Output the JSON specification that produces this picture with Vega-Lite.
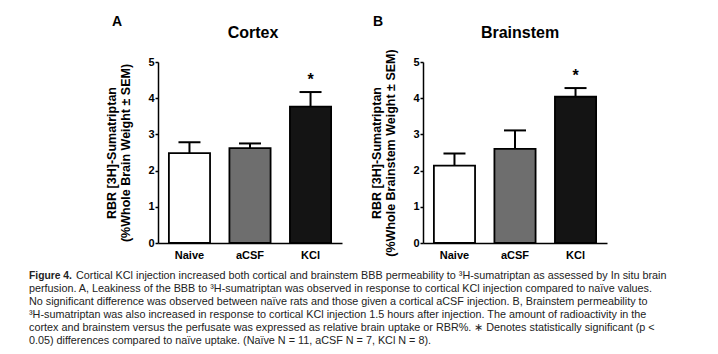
{
  "$schema": "https://vega.github.io/schema/vega-lite/v6.json",
  "bounds": "flush",
  "padding": {"left": 29, "top": 15, "right": 0, "bottom": 0},
  "background": "white",
  "config": {
    "view": {"stroke": null},
    "font": "Liberation Sans",
    "axis": {
      "domainColor": "black", "domainWidth": 1.5, "tickColor": "black", "tickWidth": 1.5,
      "labelColor": "black", "labelFontWeight": "bold", "labelFontSize": 11, "grid": false,
      "titleColor": "black", "titleFontWeight": "bold", "titleFontSize": 12.5
    },
    "axisY": {"tickCount": 10, "format": "d", "labelOverlap": false, "values": [0, 1, 2, 3, 4, 5], "tickSize": 3, "labelPadding": 1, "titlePadding": 15, "titleLineHeight": 14}
  },
  "columns": 2,
  "spacing": {"row": 26, "column": 81},
  "concat": [
    {
      "width": 184, "height": 181,
      "data": {"values": [
        {"group": "Naive", "mean": 2.48, "hi": 2.78, "sig": ""},
        {"group": "aCSF", "mean": 2.62, "hi": 2.75, "sig": ""},
        {"group": "KCl", "mean": 3.77, "hi": 4.17, "sig": "*"}
      ]},
      "layer": [
        {
          "mark": {"type": "bar", "stroke": "black", "strokeWidth": 1.8, "opacity": 1},
          "encoding": {
            "x": {"field": "group", "type": "nominal", "sort": null, "title": null,
              "scale": {"paddingInner": 0.32, "paddingOuter": 0.18},
              "axis": {"ticks": false, "labelPadding": 6, "labelAngle": 0, "bandPosition": 0.5, "labelAlign": "center"}},
            "y": {"field": "mean", "type": "quantitative",
              "scale": {"domain": [0, 5], "nice": false},
              "axis": {"values": [0, 1, 2, 3, 4, 5], "tickCount": 10, "format": "d", "labelOverlap": false, "title": ["RBR [3H]-Sumatriptan", "(%Whole Brain Weight ± SEM)"]}},
            "fill": {"field": "group", "type": "nominal", "legend": null,
              "scale": {"domain": ["Naive", "aCSF", "KCl"], "range": ["#ffffff", "#6e6e6e", "#141414"]}}
          }
        },
        {
          "mark": {"type": "rule", "color": "black", "strokeWidth": 2},
          "encoding": {
            "x": {"field": "group", "type": "nominal", "sort": null},
            "y": {"field": "mean", "type": "quantitative",
              "axis": {"values": [0, 1, 2, 3, 4, 5], "tickCount": 10, "format": "d", "labelOverlap": false, "title": ["RBR [3H]-Sumatriptan", "(%Whole Brain Weight ± SEM)"]}},
            "y2": {"field": "hi"}
          }
        },
        {
          "mark": {"type": "tick", "orient": "horizontal", "size": 22, "thickness": 2, "color": "black", "opacity": 1},
          "encoding": {
            "x": {"field": "group", "type": "nominal", "sort": null},
            "y": {"field": "hi", "type": "quantitative",
              "axis": {"values": [0, 1, 2, 3, 4, 5], "tickCount": 10, "format": "d", "labelOverlap": false, "title": ["RBR [3H]-Sumatriptan", "(%Whole Brain Weight ± SEM)"]}}
          }
        },
        {
          "mark": {"type": "text", "fontSize": 16, "fontWeight": "bold", "baseline": "middle", "dy": -12, "color": "black"},
          "encoding": {
            "x": {"field": "group", "type": "nominal", "sort": null},
            "y": {"field": "hi", "type": "quantitative",
              "axis": {"values": [0, 1, 2, 3, 4, 5], "tickCount": 10, "format": "d", "labelOverlap": false, "title": ["RBR [3H]-Sumatriptan", "(%Whole Brain Weight ± SEM)"]}},
            "text": {"field": "sig"}
          }
        },
        {
          "data": {"values": [{"label": "A"}]},
          "mark": {"type": "text", "x": -41, "y": -40, "fontSize": 14, "fontWeight": "bold", "baseline": "middle", "align": "center", "color": "black"},
          "encoding": {"text": {"field": "label"}}
        },
        {
          "data": {"values": [{"label": "Cortex"}]},
          "mark": {"type": "text", "x": 95, "y": -29, "fontSize": 16, "fontWeight": "bold", "baseline": "middle", "align": "center", "color": "black"},
          "encoding": {"text": {"field": "label"}}
        }
      ]
    },
    {
      "width": 184, "height": 181,
      "data": {"values": [
        {"group": "Naive", "mean": 2.14, "hi": 2.47, "sig": ""},
        {"group": "aCSF", "mean": 2.6, "hi": 3.11, "sig": ""},
        {"group": "KCl", "mean": 4.04, "hi": 4.28, "sig": "*"}
      ]},
      "layer": [
        {
          "mark": {"type": "bar", "stroke": "black", "strokeWidth": 1.8, "opacity": 1},
          "encoding": {
            "x": {"field": "group", "type": "nominal", "sort": null, "title": null,
              "scale": {"paddingInner": 0.32, "paddingOuter": 0.18},
              "axis": {"ticks": false, "labelPadding": 6, "labelAngle": 0, "bandPosition": 0.5, "labelAlign": "center"}},
            "y": {"field": "mean", "type": "quantitative",
              "scale": {"domain": [0, 5], "nice": false},
              "axis": {"values": [0, 1, 2, 3, 4, 5], "tickCount": 10, "format": "d", "labelOverlap": false, "title": ["RBR [3H]-Sumatriptan", "(%Whole Brainstem Weight ± SEM)"]}},
            "fill": {"field": "group", "type": "nominal", "legend": null,
              "scale": {"domain": ["Naive", "aCSF", "KCl"], "range": ["#ffffff", "#6e6e6e", "#141414"]}}
          }
        },
        {
          "mark": {"type": "rule", "color": "black", "strokeWidth": 2},
          "encoding": {
            "x": {"field": "group", "type": "nominal", "sort": null},
            "y": {"field": "mean", "type": "quantitative",
              "axis": {"values": [0, 1, 2, 3, 4, 5], "tickCount": 10, "format": "d", "labelOverlap": false, "title": ["RBR [3H]-Sumatriptan", "(%Whole Brainstem Weight ± SEM)"]}},
            "y2": {"field": "hi"}
          }
        },
        {
          "mark": {"type": "tick", "orient": "horizontal", "size": 22, "thickness": 2, "color": "black", "opacity": 1},
          "encoding": {
            "x": {"field": "group", "type": "nominal", "sort": null},
            "y": {"field": "hi", "type": "quantitative",
              "axis": {"values": [0, 1, 2, 3, 4, 5], "tickCount": 10, "format": "d", "labelOverlap": false, "title": ["RBR [3H]-Sumatriptan", "(%Whole Brainstem Weight ± SEM)"]}}
          }
        },
        {
          "mark": {"type": "text", "fontSize": 16, "fontWeight": "bold", "baseline": "middle", "dy": -12, "color": "black"},
          "encoding": {
            "x": {"field": "group", "type": "nominal", "sort": null},
            "y": {"field": "hi", "type": "quantitative",
              "axis": {"values": [0, 1, 2, 3, 4, 5], "tickCount": 10, "format": "d", "labelOverlap": false, "title": ["RBR [3H]-Sumatriptan", "(%Whole Brainstem Weight ± SEM)"]}},
            "text": {"field": "sig"}
          }
        },
        {
          "data": {"values": [{"label": "B"}]},
          "mark": {"type": "text", "x": -45, "y": -40, "fontSize": 14, "fontWeight": "bold", "baseline": "middle", "align": "center", "color": "black"},
          "encoding": {"text": {"field": "label"}}
        },
        {
          "data": {"values": [{"label": "Brainstem"}]},
          "mark": {"type": "text", "x": 97, "y": -29, "fontSize": 16, "fontWeight": "bold", "baseline": "middle", "align": "center", "color": "black"},
          "encoding": {"text": {"field": "label"}}
        }
      ]
    },
    {
      "width": 184, "height": 79,
      "data": {"values": [
        {"line": 1, "text": "Cortical KCl injection increased both cortical and brainstem BBB permeability to ³H-sumatriptan as assessed by In situ brain"},
        {"line": 2, "text": "perfusion. A, Leakiness of the BBB to ³H-sumatriptan was observed in response to cortical KCl injection compared to naïve values."},
        {"line": 3, "text": "No significant difference was observed between naïve rats and those given a cortical aCSF injection. B, Brainstem permeability to"},
        {"line": 4, "text": "³H-sumatriptan was also increased in response to cortical KCl injection 1.5 hours after injection. The amount of radioactivity in the"},
        {"line": 5, "text": "cortex and brainstem versus the perfusate was expressed as relative brain uptake or RBR%. ∗ Denotes statistically significant (p <"},
        {"line": 6, "text": "0.05) differences compared to naïve uptake. (Naïve N = 11, aCSF N = 7, KCl N = 8)."}
      ]},
      "layer": [
        {
          "mark": {"type": "text", "x": -129, "dx": 47, "align": "left", "baseline": "middle", "fontSize": 10.8, "color": "#222222"},
          "transform": [{"filter": "datum.line == 1"}],
          "encoding": {
            "y": {"field": "line", "type": "ordinal", "axis": null, "scale": {"domain": [1, 2, 3, 4, 5, 6]}},
            "text": {"field": "text"}
          }
        },
        {
          "mark": {"type": "text", "x": -129, "align": "left", "baseline": "middle", "fontSize": 10.8, "color": "#222222"},
          "transform": [{"filter": "datum.line > 1"}],
          "encoding": {
            "y": {"field": "line", "type": "ordinal", "axis": null},
            "text": {"field": "text"}
          }
        },
        {
          "data": {"values": [{"line": 1, "label": "Figure 4."}]},
          "mark": {"type": "text", "x": -129, "align": "left", "baseline": "middle", "fontSize": 10.3, "fontWeight": "bold", "color": "#222222"},
          "encoding": {
            "y": {"field": "line", "type": "ordinal", "axis": null},
            "text": {"field": "label"}
          }
        }
      ]
    }
  ]
}
